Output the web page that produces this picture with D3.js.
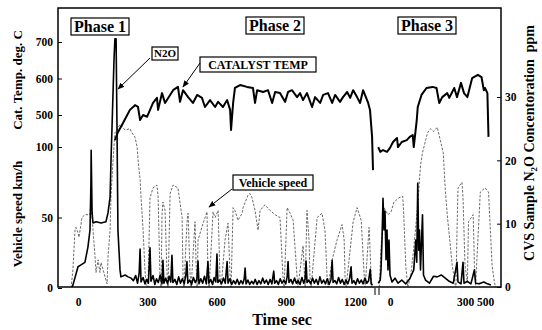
<!DOCTYPE html>
<html>
<head>
<meta charset="utf-8">
<script src="https://cdn.jsdelivr.net/npm/d3@7"></script>
<style>
  body { margin: 0; background: #fff; }
  svg text { font-family: 'Liberation Serif', 'DejaVu Serif', serif !important; font-weight: bold; fill: #000; }
  .axis text { font-size: 11.5px; }
</style>
</head>
<body>
<div id="chart"></div>
<script>
// tick labels
var tempTicks = [500, 600, 700];
var speedTicks = [0, 50, 100];
var n2oTicks = [0, 10, 20, 30];
var timeTicks12 = [0, 300, 600, 900, 1200];
var timeTicks3 = [0, 300, 500];

// catalyst temperature, deg C  [time s, value]
var temp12 = [[160,431],[173,453],[195,478],[225,514],[247,527],[260,522],[269,486],[282,500],[299,495],[312,514],
  [325,533],[342,547],[347,514],[364,560],[377,533],[399,555],[412,568],[433,577],[442,536],[455,568],
  [477,549],[498,533],[516,555],[537,547],[550,522],[572,541],[594,522],[607,536],[628,522],[646,541],
  [659,514],[663,459],[672,533],[680,574],[702,582],[732,577],[758,574],[767,533],[776,568],[802,563],
  [823,568],[841,533],[854,563],[875,560],[897,536],[910,563],[927,568],[949,549],[962,560],[975,541],
  [992,560],[1014,522],[1027,549],[1049,533],[1062,555],[1083,560],[1101,533],[1114,555],[1135,536],[1148,549],
  [1166,563],[1179,547],[1192,568],[1209,549],[1222,533],[1235,568],[1257,533],[1265,514],[1274,440],[1278,349]];
var temp3 = [[-47,412],[-39,399],[-28,404],[-12,399],[0,410],[12,426],[28,437],[32,412],[47,426],[67,431],
  [79,440],[91,445],[95,412],[107,486],[111,522],[126,555],[146,574],[170,577],[186,574],[197,533],
  [209,549],[229,560],[237,547],[257,574],[268,549],[284,588],[296,560],[324,549],[371,601],[429,610],
  [465,604],[488,568],[500,574],[524,560],[535,440]];

// N2O concentration, ppm  [time s, value]
var n2o12 = [[-26,0],[-22,0.3],[0,3.2],[13,3.5],[30,3.9],[43,6.3],[52,9.0],[56,16.4],[57,21.6],[61,11.7],
  [65,10.1],[78,10.3],[100,10.1],[121,10.3],[130,11.7],[139,14.2],[143,20.1],[147,24.8],[156,35.9],[160,39.2],
  [165,39.2],[169,24.8],[173,9.0],[182,2.7],[186,1.6],[204,1.9],[217,1.6],[230,1.4],
  [240,1.0],[250,1.8],[258,0.6],[265,2.2],[269,6.0],[273,0.8],[282,1.5],[290,0.5],[298,1.2],[305,0.6],
  [312,6.2],[316,0.9],[325,1.8],[333,0.4],[340,1.3],[348,0.7],[356,1.9],[364,0.5],[368,4.2],[372,0.6],
  [380,1.4],[388,0.5],[395,1.7],[402,0.8],[407,5.0],[411,0.7],[420,1.2],[428,0.4],[436,1.6],[444,0.6],
  [452,1.3],[460,0.5],[467,1.8],[472,4.0],[476,0.6],[484,1.1],[492,0.4],[500,1.5],[508,0.7],[515,1.2],
  [520,4.1],[524,0.5],[532,1.3],[540,0.6],[548,1.7],[556,0.5],[563,4.0],[567,0.6],[575,1.2],[583,0.4],
  [590,1.5],[597,0.8],[602,5.2],[606,0.7],[614,1.1],[622,0.5],[630,1.4],[638,0.6],[646,4.0],[650,0.6],
  [658,1.3],[666,0.4],[674,1.0],[682,0.5],[690,1.2],[698,0.4],[706,1.0],[714,0.5],[720,1.3],[724,3.0],
  [728,0.5],[736,1.1],[744,0.4],[752,0.9],[760,0.5],[768,1.2],[776,0.4],[784,1.0],[792,0.5],[800,1.4],
  [808,0.6],[816,1.1],[824,0.4],[832,1.2],[840,0.5],[848,2.5],[852,0.6],[860,1.0],[868,0.4],[876,1.3],
  [884,0.6],[892,1.1],[900,0.5],[906,1.6],[910,4.0],[914,0.7],[922,1.2],[930,0.5],[938,1.4],[946,0.6],
  [954,1.0],[962,0.4],[970,1.5],[978,0.6],[984,1.3],[988,4.1],[992,0.7],[1000,1.1],[1008,0.5],[1016,1.4],
  [1024,0.6],[1032,1.2],[1040,0.4],[1048,1.6],[1056,0.6],[1064,1.1],[1072,0.5],[1080,1.3],[1088,0.4],[1096,1.2],
  [1101,4.2],[1105,0.7],[1113,1.0],[1121,0.5],[1129,1.5],[1137,0.6],[1145,1.2],[1153,0.4],[1161,1.1],[1169,0.5],
  [1177,1.4],[1183,3.2],[1187,0.6],[1195,1.0],[1203,0.4],[1211,1.3],[1219,0.6],[1227,1.1],[1235,0.5],[1243,1.4],
  [1251,0.6],[1259,1.0],[1266,2.8],[1270,0.5],[1276,0.3]];
var n2o3 = [[-47,0.6],[-39,1.1],[-36,2.7],[-32,7.4],[-28,14.0],[-24,9.0],[-20,12.0],[-16,4.3],[-12,9.0],[-8,2.7],
  [-4,7.4],[0,1.9],[8,0.8],[20,1.4],[32,0.6],[47,1.1],[63,0.5],[79,1.3],[95,2.7],[103,7.4],
  [107,3.9],[111,16.4],[115,5.8],[118,9.0],[122,2.7],[130,11.4],[134,1.9],[142,1.1],[158,0.6],[174,1.7],
  [189,1.6],[205,1.9],[221,1.4],[237,0.9],[253,0.6],[268,3.9],[272,0.8],[284,0.5],[292,3.9],[296,0.6],
  [324,0.9],[359,0.5],[394,2.7],[406,0.6],[441,0.5],[488,0.8],[524,0.5],[559,0.3]];

// vehicle speed, km/h  [time s, value]
var speed12 = [[-30,0],[-22,12.8],[-13,41],[-9,43],[0,39],[4,36],[13,45],[17,50],[30,52],[52,52],
  [56,64],[65,41],[74,22],[78,11],[87,20],[95,11],[100,18],[117,8],[126,3],[130,22],
  [139,41],[143,65],[152,91],[160,110],[182,116],[204,112],[225,113],[234,110],[247,107],[256,100],
  [260,91],[269,77],[273,65],[282,41],[290,13],[295,2],[303,0.5],[312,64],[325,71],[342,73],
  [347,65],[355,9],[360,0.5],[364,52],[368,61],[377,55],[386,9],[390,0.5],[399,67],[412,73],
  [433,71],[451,50],[455,8],[459,0.5],[472,46],[477,53],[485,11],[490,0.5],[507,47],[511,20],
  [516,0.5],[520,34],[542,46],[559,54],[563,8],[568,0.5],[585,54],[594,50],[607,55],[615,8],
  [620,0.5],[637,34],[650,46],[659,8],[663,0.5],[672,57],[680,55],[693,48],[711,53],[715,57],
  [737,66],[745,67],[754,64],[767,55],[780,41],[789,55],[810,59],[832,55],[854,52],[875,50],
  [888,8],[893,0.5],[906,57],[919,53],[932,48],[949,8],[953,0.5],[975,30],[984,0.5],[992,55],
  [1001,34],[1005,8],[1010,0.5],[1036,50],[1057,53],[1070,41],[1079,8],[1083,0.5],[1101,20],[1122,34],
  [1144,45],[1153,34],[1157,8],[1161,0.5],[1179,27],[1192,47],[1209,57],[1227,48],[1240,8],[1244,0.5],
  [1261,43],[1270,8],[1274,0]];
var speed3 = [[-43,0.5],[-36,28],[-24,57],[-8,52],[4,54],[16,61],[36,64],[51,65],[55,52],[63,16],
  [71,0.5],[83,9],[95,28],[111,59],[122,87],[130,96],[150,110],[162,113],[174,111],[189,114],
  [201,105],[213,96],[221,70],[229,52],[249,16],[261,2],[264,0],[268,40],[272,71],[288,75],
  [292,64],[300,16],[324,4],[335,47],[382,52],[394,16],[406,2],[453,68],[500,71],[535,68],
  [571,16],[594,4],[606,0.5]];

var width = 542, height = 330;
var frame = {left: 58, top: 8, right: 501, bottom: 287};

var x12 = d3.scaleLinear().domain([0, 1200]).range([78, 355]);
var x3 = d3.scaleLinear().domain([0, 300, 500]).range([390, 465, 485]);
var yTemp = d3.scaleLinear().domain([500, 700]).range([115, 42]);
var ySpeed = d3.scaleLinear().domain([0, 100]).range([288, 147]);
var yN2O = d3.scaleLinear().domain([0, 30]).range([287, 97]);

var serif = "'Liberation Serif', 'DejaVu Serif', serif";

var svg = d3.select("#chart").append("svg")
    .attr("width", width)
    .attr("height", height)
    .attr("font-family", serif)
    .attr("font-weight", "bold");

svg.append("defs").append("clipPath").attr("id", "plotclip")
  .append("rect")
    .attr("x", frame.left).attr("y", frame.top)
    .attr("width", frame.right - frame.left)
    .attr("height", frame.bottom - frame.top);

var plot = svg.append("g").attr("clip-path", "url(#plotclip)");

function lineFor(xs, ys) {
  return d3.line().x(function(d) { return xs(d[0]); }).y(function(d) { return ys(d[1]); });
}

// vehicle speed - thin broken line
[[speed12, x12], [speed3, x3]].forEach(function(s) {
  plot.append("path")
      .attr("d", lineFor(s[1], ySpeed)(s[0]))
      .attr("fill", "none")
      .attr("stroke", "#444")
      .attr("stroke-width", 0.8)
      .attr("stroke-dasharray", "2.5,1.5");
});

// N2O
[[n2o12, x12], [n2o3, x3]].forEach(function(s) {
  plot.append("path")
      .attr("d", lineFor(s[1], yN2O)(s[0]))
      .attr("fill", "none")
      .attr("stroke", "#000")
      .attr("stroke-width", 1.6)
      .attr("stroke-linejoin", "round");
});

// catalyst temperature
[[temp12, x12], [temp3, x3]].forEach(function(s) {
  plot.append("path")
      .attr("d", lineFor(s[1], yTemp)(s[0]))
      .attr("fill", "none")
      .attr("stroke", "#000")
      .attr("stroke-width", 2)
      .attr("stroke-linejoin", "round");
});

// frame
svg.append("rect")
    .attr("x", frame.left).attr("y", frame.top)
    .attr("width", frame.right - frame.left)
    .attr("height", frame.bottom - frame.top)
    .attr("fill", "none")
    .attr("stroke", "#000")
    .attr("stroke-width", 1.5);

// axes
function clean(g) {
  g.attr("font-family", serif);
  g.select(".domain").remove();
  g.selectAll(".tick line").attr("stroke", "#000").attr("stroke-width", 1);
}

svg.append("g").attr("class", "axis")
    .attr("transform", "translate(" + frame.left + ",0)")
    .call(d3.axisLeft(yTemp).tickValues(tempTicks).tickSize(-4).tickPadding(5))
    .call(clean);

svg.append("g").attr("class", "axis")
    .attr("transform", "translate(" + frame.left + ",0)")
    .call(d3.axisLeft(ySpeed).tickValues(speedTicks).tickSize(-4).tickPadding(5))
    .call(clean);

svg.append("g").attr("class", "axis")
    .attr("transform", "translate(" + frame.right + ",0)")
    .call(d3.axisRight(yN2O).tickValues(n2oTicks).tickSize(-4).tickPadding(4))
    .call(clean);

svg.append("g").attr("class", "axis")
    .attr("transform", "translate(0," + frame.bottom + ")")
    .call(d3.axisBottom(x12).tickValues(timeTicks12).tickFormat(d3.format("d")).tickSize(0).tickPadding(11))
    .call(clean);

svg.append("g").attr("class", "axis")
    .attr("transform", "translate(0," + frame.bottom + ")")
    .call(d3.axisBottom(x3).tickValues(timeTicks3).tickFormat(d3.format("d")).tickSize(0).tickPadding(11))
    .call(clean);

// axis break marks
[375, 379].forEach(function(bx) {
  svg.append("line")
      .attr("x1", bx).attr("x2", bx)
      .attr("y1", frame.bottom + 1).attr("y2", frame.bottom + 8)
      .attr("stroke", "#000").attr("stroke-width", 1);
});

// axis titles
svg.append("text")
    .attr("transform", "translate(22,80) rotate(-90)")
    .attr("text-anchor", "middle")
    .attr("font-size", 13)
    .text("Cat. Temp. deg. C");

svg.append("text")
    .attr("transform", "translate(22,214) rotate(-90)")
    .attr("text-anchor", "middle")
    .attr("font-size", 13)
    .text("Vehicle speed km/h");

var rt = svg.append("text")
    .attr("transform", "translate(534,143) rotate(-90)")
    .attr("text-anchor", "middle")
    .attr("font-size", 14);
rt.append("tspan").text("CVS Sample N");
rt.append("tspan").attr("font-size", 9).attr("dy", 3).text("2");
rt.append("tspan").attr("dy", -3).text("O Concentoration");
rt.append("tspan").attr("dx", 7).text("ppm");

svg.append("text")
    .attr("x", 282).attr("y", 325)
    .attr("text-anchor", "middle")
    .attr("font-size", 16)
    .text("Time sec");

// boxed labels
function boxLabel(x0, y0, w, h, txt, size) {
  svg.append("rect")
      .attr("x", x0).attr("y", y0)
      .attr("width", w).attr("height", h)
      .attr("fill", "#fff")
      .attr("stroke", "#000")
      .attr("stroke-width", 1.2);
  svg.append("text")
      .attr("x", x0 + w / 2).attr("y", y0 + h / 2)
      .attr("dy", "0.36em")
      .attr("text-anchor", "middle")
      .attr("font-size", size)
      .text(txt);
}

boxLabel(71, 18, 58, 17, "Phase 1", 16);
boxLabel(246, 17, 58, 17, "Phase 2", 16);
boxLabel(398, 17, 58, 17, "Phase 3", 16);
boxLabel(152, 47, 26, 13, "N2O", 11);
boxLabel(200, 57, 116, 15, "CATALYST TEMP", 12);
boxLabel(233, 175, 80, 15, "Vehicle speed", 12);

// arrows
svg.append("defs").append("marker")
    .attr("id", "arrowhead")
    .attr("viewBox", "0 0 10 10")
    .attr("refX", 9).attr("refY", 5)
    .attr("markerWidth", 7).attr("markerHeight", 7)
    .attr("orient", "auto")
  .append("path")
    .attr("d", "M0,1 L10,5 L0,9 Z")
    .attr("fill", "#000");

[[150, 58, 118, 89], [200, 63, 183, 87], [232, 189, 209, 207]].forEach(function(a) {
  svg.append("line")
      .attr("x1", a[0]).attr("y1", a[1])
      .attr("x2", a[2]).attr("y2", a[3])
      .attr("stroke", "#000")
      .attr("stroke-width", 1)
      .attr("marker-end", "url(#arrowhead)");
});
</script>
</body>
</html>
